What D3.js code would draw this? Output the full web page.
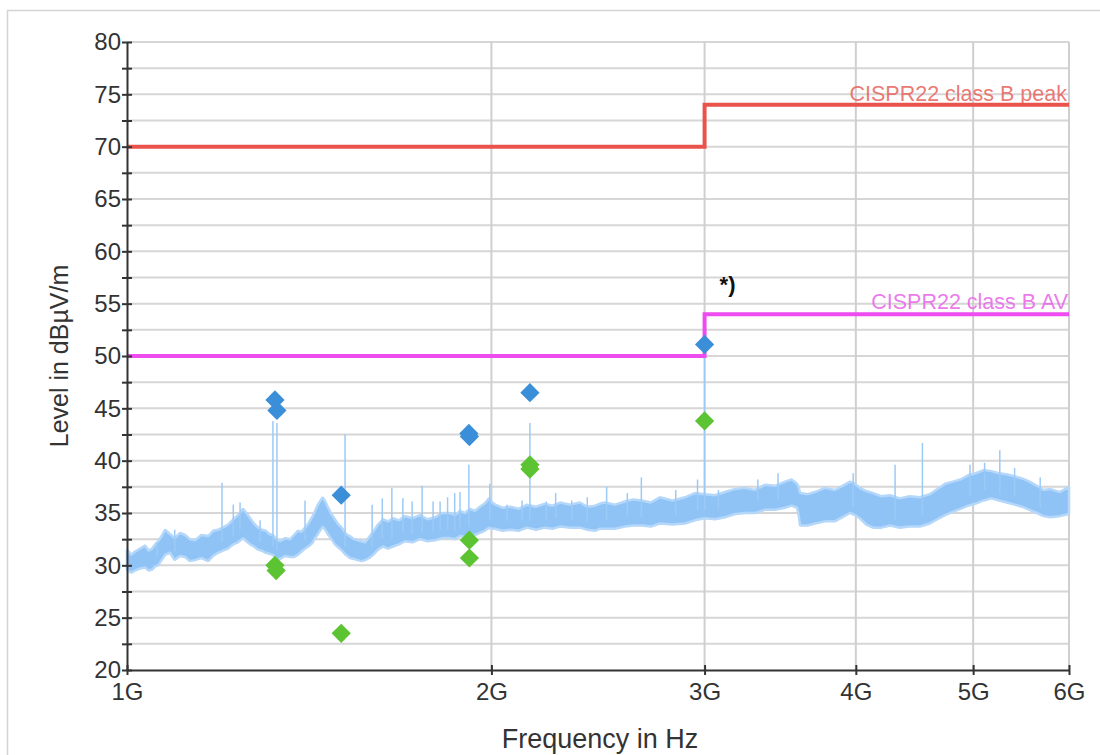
<!DOCTYPE html>
<html>
<head>
<meta charset="utf-8">
<script src="https://cdn.jsdelivr.net/npm/d3@7"></script>
<style>
  body { margin: 0; background: #fff; }
  svg text { font-family: "Liberation Sans", Arial, sans-serif; }
</style>
</head>
<body>
<div class="canvas"></div>
<script>
// measured emission, frequencies in GHz, levels in dBµV/m
const traceFreq = [1.000, 1.008, 1.015, 1.025, 1.035, 1.042, 1.049, 1.055, 1.061, 1.068,
  1.075, 1.085, 1.095, 1.106, 1.117, 1.127, 1.138, 1.152, 1.167, 1.178,
  1.189, 1.200, 1.212, 1.224, 1.235, 1.247, 1.255, 1.264, 1.273, 1.283,
  1.292, 1.302, 1.311, 1.320, 1.329, 1.338, 1.351, 1.364, 1.374, 1.384,
  1.393, 1.403, 1.412, 1.422, 1.430, 1.438, 1.445, 1.451, 1.458, 1.465,
  1.475, 1.485, 1.495, 1.505, 1.516, 1.528, 1.540, 1.551, 1.562, 1.573,
  1.585, 1.597, 1.612, 1.627, 1.643, 1.659, 1.678, 1.697, 1.721, 1.746,
  1.771, 1.797, 1.822, 1.848, 1.866, 1.884, 1.902, 1.920, 1.938, 1.957,
  1.974, 1.991, 2.003, 2.014, 2.043, 2.073, 2.106, 2.140, 2.177, 2.214,
  2.246, 2.279, 2.323, 2.367, 2.400, 2.436, 2.459, 2.482, 2.530, 2.578,
  2.620, 2.662, 2.708, 2.755, 2.822, 2.890, 2.945, 3.001, 3.060, 3.119,
  3.180, 3.240, 3.302, 3.365, 3.430, 3.496, 3.540, 3.577, 3.590, 3.597,
  3.650, 3.701, 3.772, 3.844, 3.900, 3.956, 3.993, 4.030, 4.080, 4.133,
  4.200, 4.268, 4.350, 4.430, 4.518, 4.605, 4.672, 4.740, 4.810, 4.880,
  4.953, 5.026, 5.100, 5.176, 5.253, 5.330, 5.410, 5.488, 5.566, 5.645,
  5.716, 5.788, 5.894, 6.000];
const traceHigh = [31.5, 31.0, 31.3, 31.6, 31.9, 31.4, 31.6, 32.0, 32.3, 32.8,
  33.4, 33.0, 32.6, 33.1, 32.9, 32.5, 32.4, 32.9, 32.8, 33.3,
  33.4, 33.6, 33.9, 34.4, 34.8, 35.4, 35.0, 34.5, 34.0, 33.6,
  33.4, 33.3, 33.0, 32.9, 32.5, 32.3, 32.6, 32.5, 32.9, 33.3,
  33.2, 33.6, 34.0, 34.6, 35.2, 35.8, 36.2, 36.5, 36.1, 35.6,
  34.9, 34.4, 33.9, 33.6, 33.0, 32.8, 32.5, 32.4, 32.3, 32.2,
  32.7, 33.2, 33.9, 34.4, 34.2, 34.5, 34.3, 34.7, 34.5, 34.8,
  34.4, 34.6, 35.0, 35.0, 34.8, 35.2, 35.0, 35.4, 35.2, 35.6,
  35.9, 36.4, 36.0, 35.8, 35.5, 35.6, 35.4, 35.8, 35.6, 35.9,
  35.7, 36.0, 35.8, 36.0, 35.6, 35.7, 35.9, 36.0, 35.8, 36.1,
  36.3, 36.2, 36.0, 36.5, 36.2, 36.5, 36.9, 36.8, 36.7, 37.0,
  37.3, 37.4, 37.2, 37.7, 37.6, 38.0, 38.2, 37.8, 37.4, 36.9,
  36.8, 37.0, 37.4, 37.2, 37.6, 38.0, 37.8, 37.4, 37.1, 36.9,
  36.6, 36.7, 36.4, 36.6, 36.5, 36.8, 37.3, 37.8, 38.0, 38.2,
  38.6, 38.8, 39.1, 39.0, 38.8, 38.7, 38.5, 38.3, 38.0, 37.6,
  37.2, 37.3, 37.0, 37.5];
const traceLow = [29.6, 29.3, 29.5, 29.7, 29.8, 29.5, 29.6, 29.9, 30.0, 30.5,
  31.0, 31.2, 30.5, 30.9, 30.8, 30.4, 30.5, 30.7, 30.4, 30.9,
  31.2, 31.4, 31.6, 32.0, 32.2, 32.6, 32.3, 32.0, 31.8, 31.5,
  31.4, 31.2, 31.1, 31.0, 30.6, 30.6, 30.9, 30.8, 30.8, 31.0,
  31.3, 31.6, 31.8, 32.1, 32.6, 33.0, 33.4, 33.7, 33.4, 33.0,
  32.5, 32.0, 31.7, 31.4, 31.0, 30.7, 30.6, 30.5, 30.4, 30.5,
  30.7, 31.0, 31.5, 31.8, 31.6, 31.8, 32.0, 32.3, 32.2, 32.5,
  32.3, 32.4, 32.6, 32.6, 32.5, 32.8, 32.7, 32.9, 32.9, 33.1,
  33.3, 33.6, 33.5, 33.5, 33.3, 33.4, 33.3, 33.6, 33.4, 33.6,
  33.5, 33.7, 33.6, 33.6, 33.4, 33.3, 33.5, 33.5, 33.5, 33.7,
  33.8, 33.8, 33.7, 34.0, 33.9, 34.0, 34.3, 34.5, 34.4, 34.6,
  34.9, 35.0, 35.0, 35.3, 35.3, 35.5, 35.7, 35.5, 34.6, 33.8,
  33.8, 34.0, 34.2, 34.2, 34.6, 35.0, 34.8, 34.5, 33.9, 33.6,
  33.6, 33.8, 33.6, 33.7, 33.7, 34.0, 34.4, 34.8, 35.1, 35.4,
  35.7, 35.9, 36.2, 36.4, 36.2, 36.0, 35.8, 35.6, 35.3, 35.0,
  34.7, 34.6, 34.7, 34.9];

// narrow spikes above the noise floor
const spikeFreq = [1.059, 1.095, 1.198, 1.224, 1.240, 1.288, 1.320, 1.330, 1.403, 1.514,
  1.594, 1.625, 1.655, 1.690, 1.720, 1.753, 1.790, 1.814, 1.840, 1.865,
  1.884, 1.916, 1.994, 2.060, 2.120, 2.152, 2.220, 2.260, 2.330, 2.400,
  2.490, 2.590, 2.660, 2.840, 2.960, 3.000, 3.080, 3.320, 3.450, 3.980,
  4.310, 4.540, 4.970, 5.110, 5.260, 5.410, 5.680];
const spikeLevel = [32.2, 33.4, 37.9, 35.8, 36.0, 34.3, 43.8, 43.6, 36.2, 42.5,
  35.8, 36.4, 37.4, 36.4, 36.1, 37.6, 36.1, 36.1, 36.5, 36.9,
  37.0, 39.6, 37.8, 35.8, 36.2, 43.6, 36.1, 36.9, 36.2, 36.5,
  37.5, 36.9, 38.4, 37.2, 38.2, 50.5, 37.2, 38.2, 38.8, 38.8,
  39.6, 41.7, 39.6, 39.8, 41.0, 39.3, 38.4];

// final measurements
const peakFreq = [1.325, 1.330, 1.503, 1.916, 1.918, 2.152, 3.000];
const peakLevel = [45.8, 44.8, 36.7, 42.6, 42.3, 46.5, 51.1];
const avgFreq = [1.325, 1.328, 1.503, 1.918, 1.918, 2.152, 2.152, 3.000];
const avgLevel = [30.0, 29.5, 23.5, 32.4, 30.7, 39.6, 39.2, 43.8];

// limits
const limitFreq = [1, 3, 3, 6];
const peakLimit = [70, 70, 74, 74];
const avLimit = [50, 50, 54, 54];

const xTicks = [1, 2, 3, 4, 5, 6];
const yTicks = [20, 25, 30, 35, 40, 45, 50, 55, 60, 65, 70, 75, 80];
const yMinor = [22.5, 27.5, 32.5, 37.5, 42.5, 47.5, 52.5, 57.5, 62.5, 67.5, 72.5, 77.5];

const width = 1100, height = 755;
const margin = { left: 127, right: 31, top: 42, bottom: 85 };
const iw = width - margin.left - margin.right;
const ih = height - margin.top - margin.bottom;

const svg = d3.select(".canvas").append("svg")
  .attr("width", width).attr("height", height);

// outer frame
svg.append("rect")
  .attr("x", 7.5).attr("y", 10.5).attr("width", 1200).attr("height", 900)
  .attr("fill", "none").attr("stroke", "#d4d4d4").attr("stroke-width", 1.5);

const g = svg.append("g").attr("transform", `translate(${margin.left},${margin.top})`);

const x = d3.scaleLog().domain([1, 6]).range([0, iw]);
const y = d3.scaleLinear().domain([20, 80]).range([ih, 0]);

// grid
g.append("g").selectAll("line").data(yTicks.concat(yMinor).filter(d => d > 20))
  .join("line")
  .attr("x1", 0).attr("x2", iw)
  .attr("y1", d => y(d)).attr("y2", d => y(d))
  .attr("stroke", "#d6d6d6").attr("stroke-width", 2);
g.append("g").selectAll("line").data(xTicks.slice(1))
  .join("line")
  .attr("x1", d => x(d)).attr("x2", d => x(d))
  .attr("y1", 0).attr("y2", ih)
  .attr("stroke", "#cfcfcf").attr("stroke-width", 2);

// limit labels
g.append("text")
  .attr("x", iw - 2).attr("y", y(74) - 4)
  .attr("text-anchor", "end").attr("font-size", 21.5)
  .attr("fill", "#e8615b").attr("fill-opacity", 0.85)
  .text("CISPR22 class B peak");
g.append("text")
  .attr("x", iw - 1).attr("y", y(54) - 5)
  .attr("text-anchor", "end").attr("font-size", 21.5)
  .attr("fill", "#e862e8").attr("fill-opacity", 0.85)
  .text("CISPR22 class B AV");

// noise trace
const band = traceFreq.map((f, i) => ({ f, hi: traceHigh[i], lo: traceLow[i] }));
g.append("path")
  .datum(band)
  .attr("d", d3.area().x(d => x(d.f)).y0(d => y(d.lo)).y1(d => y(d.hi)))
  .attr("fill", "#8fc3f6").attr("stroke", "#b5d8fa").attr("stroke-width", 2.5)
  .attr("stroke-linejoin", "bevel");

const loAt = f => {
  const i = d3.bisectLeft(traceFreq, f);
  return traceLow[Math.min(i, traceLow.length - 1)] + 0.8;
};
g.append("g").selectAll("line").data(spikeFreq)
  .join("line")
  .attr("x1", d => x(d)).attr("x2", d => x(d))
  .attr("y1", d => y(loAt(d))).attr("y2", (d, i) => y(spikeLevel[i]))
  .attr("stroke", "#9ccaf6").attr("stroke-width", 1.5);

// limit lines
const limLine = d3.line().x(d => x(d[0])).y(d => y(d[1]));
g.append("path")
  .attr("d", limLine(limitFreq.map((f, i) => [f, peakLimit[i]])))
  .attr("fill", "none").attr("stroke", "#e9534c").attr("stroke-width", 4);
g.append("path")
  .attr("d", limLine(limitFreq.map((f, i) => [f, avLimit[i]])))
  .attr("fill", "none").attr("stroke", "#ee4cee").attr("stroke-width", 4);

// markers
const diamond = d3.symbol().type(d3.symbolSquare).size(185);
g.append("g").selectAll("path").data(avgFreq)
  .join("path")
  .attr("d", diamond)
  .attr("transform", (d, i) => `translate(${x(d)},${y(avgLevel[i])}) rotate(45)`)
  .attr("fill", "#5cc332");
g.append("g").selectAll("path").data(peakFreq)
  .join("path")
  .attr("d", diamond)
  .attr("transform", (d, i) => `translate(${x(d)},${y(peakLevel[i])}) rotate(45)`)
  .attr("fill", "#3b8fd8");

// note
g.append("text")
  .attr("x", x(3) + 15).attr("y", y(56.1))
  .attr("font-size", 22).attr("font-weight", "bold")
  .attr("font-family", "DejaVu Sans, sans-serif")
  .attr("fill", "#111")
  .text("*)");

// axes
const yAxis = g.append("g")
  .call(d3.axisLeft(y).tickValues(yTicks).tickSize(5).tickSizeOuter(0).tickPadding(1));
const yAxisMinor = g.append("g")
  .call(d3.axisLeft(y).tickValues(yMinor).tickSize(5).tickFormat(""));
yAxisMinor.select(".domain").remove();
[yAxis, yAxisMinor].forEach(a => a.selectAll(".tick line").attr("x1", 5));

const xAxis = g.append("g")
  .attr("transform", `translate(0,${ih})`)
  .call(d3.axisBottom(x).tickValues(xTicks).tickSize(5).tickSizeOuter(0).tickPadding(8)
    .tickFormat(d => d + "G"));
xAxis.selectAll(".tick line").attr("y1", -5);

g.selectAll(".domain, .tick line").attr("stroke", "#333").attr("stroke-width", 2);
g.selectAll(".tick text").attr("font-size", 24).attr("fill", "#333")
  .attr("font-family", "Liberation Sans, Arial, sans-serif");
xAxis.selectAll(".tick text").attr("dy", "0.72em");

// axis titles
svg.append("text")
  .attr("transform", `translate(68,${margin.top + ih / 2}) rotate(-90)`)
  .attr("text-anchor", "middle").attr("font-size", 25).attr("fill", "#333")
  .text("Level in dBµV/m");
svg.append("text")
  .attr("x", 600).attr("y", 748)
  .attr("text-anchor", "middle").attr("font-size", 27).attr("fill", "#333")
  .text("Frequency in Hz");
</script>
</body>
</html>
